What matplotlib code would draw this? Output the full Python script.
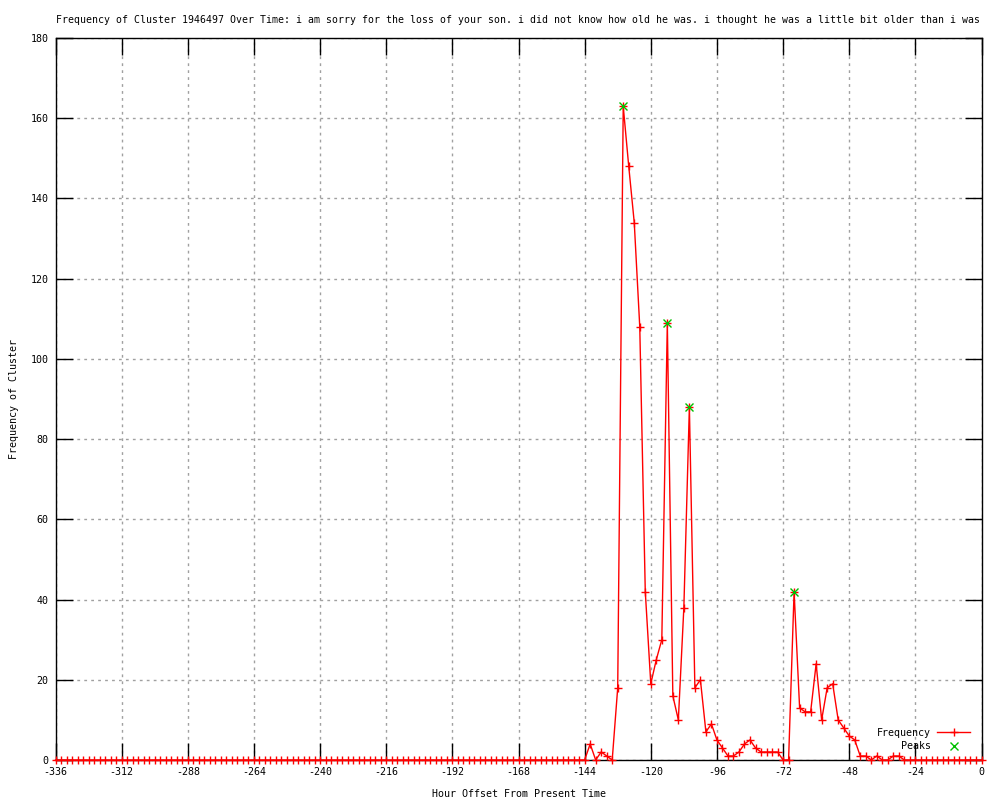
#!/usr/bin/env python3
"""Frequency of a cluster over time, drawn in the style of a gnuplot png."""

import matplotlib

matplotlib.use("Agg")
import matplotlib.pyplot as plt

TITLE = ("Frequency of Cluster 1946497 Over Time: i am sorry for the loss of your son. "
         "i did not know how old he was. i thought he was a little bit older than i was")

# hour offsets, one sample every 2 hours
HOURS = list(range(-336, 1, 2))

# non-zero part of the series, from -142 to -30
ACTIVE_START = -142
ACTIVE_VALUES = [
    4, 0, 2, 1, 0, 18, 163, 148, 134, 108,
    42, 19, 25, 30, 109, 16, 10, 38, 88, 18,
    20, 7, 9, 5, 3, 1, 1, 2, 4, 5,
    3, 2, 2, 2, 2, 0, 0, 42, 13, 12,
    12, 24, 10, 18, 19, 10, 8, 6, 5, 1,
    1, 0, 1, 0, 0, 1, 1,
]

PEAK_HOURS = [-130, -114, -106, -68]
PEAK_VALUES = [163, 109, 88, 42]

X_TICKS = list(range(-336, 1, 24))
Y_TICKS = list(range(0, 181, 20))

RED = "#ff0000"
GREEN = "#00c000"
GRID = "#a0a0a0"
FONT = "DejaVu Sans Mono"
FS = 7.2


def build_series():
    values = [0] * len(HOURS)
    start = HOURS.index(ACTIVE_START)
    for i, v in enumerate(ACTIVE_VALUES):
        values[start + i] = v
    return values


def main():
    freq = build_series()

    fig = plt.figure(figsize=(10, 8), dpi=100)
    ax = fig.add_axes([0.0555, 0.05, 0.926, 0.9025])

    ax.plot(HOURS, freq, color=RED, linewidth=1, marker="+", markersize=6,
            markeredgewidth=1, label="Frequency", clip_on=False, zorder=3)
    ax.plot(PEAK_HOURS, PEAK_VALUES, color=GREEN, linestyle="none", marker="x",
            markersize=5.5, markeredgewidth=1, label="Peaks", zorder=4)

    ax.set_xlim(-336, 0)
    ax.set_ylim(0, 180)
    ax.set_xticks(X_TICKS)
    ax.set_yticks(Y_TICKS)
    ax.set_xticklabels([str(t) for t in X_TICKS], fontfamily=FONT, fontsize=FS)
    ax.set_yticklabels([str(t) for t in Y_TICKS], fontfamily=FONT, fontsize=FS)
    ax.tick_params(direction="in", length=12, width=1, color="black",
                   top=True, right=True, pad=5)

    ax.grid(True, color=GRID, linestyle=(0, (2, 3)), linewidth=1)
    ax.set_axisbelow(True)
    for spine in ax.spines.values():
        spine.set_color("black")
        spine.set_linewidth(1)

    ax.set_title(TITLE, fontfamily=FONT, fontsize=7.15, pad=11)
    ax.set_xlabel("Hour Offset From Present Time", fontfamily=FONT, fontsize=FS, labelpad=9)
    ax.set_ylabel("Frequency of Cluster", fontfamily=FONT, fontsize=FS, labelpad=8)

    ax.legend(loc="lower right", bbox_to_anchor=(0.975, 0.055),
              bbox_transform=fig.transFigure, frameon=False, markerfirst=False,
              prop={"family": FONT, "size": FS}, handlelength=3.3,
              labelspacing=0.35, handletextpad=0.6, borderpad=0)

    fig.savefig("out.png", dpi=100, facecolor="white")


if __name__ == "__main__":
    main()
